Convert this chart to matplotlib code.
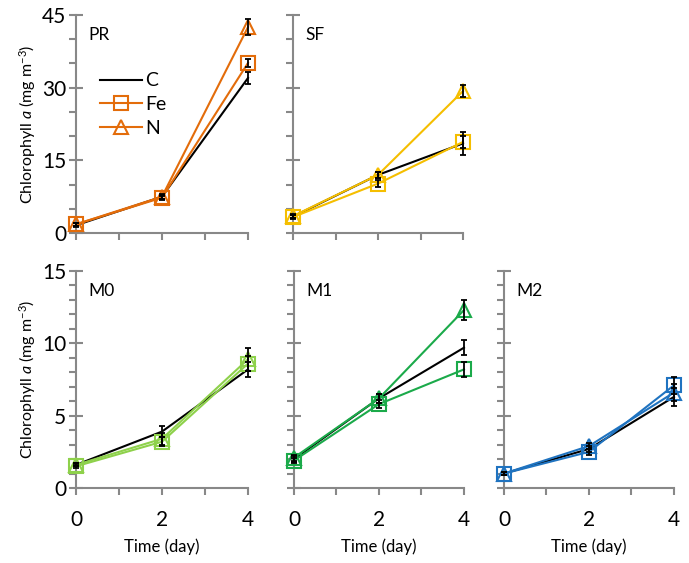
import matplotlib
matplotlib.use('Agg')
import matplotlib.pyplot as plt
from matplotlib.ticker import MultipleLocator

plt.rcParams.update({
    'font.family': ['Lato', 'DejaVu Sans'],
    'mathtext.fontset': 'custom',
    'mathtext.it': 'Lato:italic',
    'mathtext.rm': 'Lato',
})

# sampling days
days = [0, 2, 4]

# chlorophyll a (mg m-3): mean and error for control (C), +Fe, +N
PR_C = [1.6, 7.5, 32.0]
PR_C_err = [0.4, 0.5, 1.3]
PR_Fe = [1.8, 7.3, 35.1]
PR_Fe_err = [0.3, 0.4, 0.9]
PR_N = [1.8, 7.5, 42.5]
PR_N_err = [0.3, 0.4, 1.7]

SF_C = [3.4, 12.0, 18.5]
SF_C_err = [0.4, 0.6, 2.4]
SF_Fe = [3.3, 10.2, 18.8]
SF_Fe_err = [0.4, 0.8, 1.2]
SF_N = [3.5, 12.0, 29.3]
SF_N_err = [0.4, 0.6, 1.2]

M0_C = [1.6, 3.9, 8.2]
M0_C_err = [0.1, 0.4, 0.5]
M0_Fe = [1.5, 3.2, 8.6]
M0_Fe_err = [0.1, 0.3, 0.5]
M0_N = [1.6, 3.4, 8.9]
M0_N_err = [0.1, 0.4, 0.8]

M1_C = [2.0, 6.2, 9.7]
M1_C_err = [0.2, 0.3, 0.5]
M1_Fe = [1.9, 5.8, 8.2]
M1_Fe_err = [0.2, 0.3, 0.5]
M1_N = [2.1, 6.2, 12.3]
M1_N_err = [0.2, 0.3, 0.7]

M2_C = [1.0, 2.7, 6.3]
M2_C_err = [0.1, 0.2, 0.6]
M2_Fe = [1.0, 2.5, 7.1]
M2_Fe_err = [0.1, 0.2, 0.6]
M2_N = [1.0, 2.9, 6.6]
M2_N_err = [0.1, 0.2, 0.6]

sites = [
    ('PR', '#E36C0A', PR_C, PR_C_err, PR_Fe, PR_Fe_err, PR_N, PR_N_err),
    ('SF', '#F5BE00', SF_C, SF_C_err, SF_Fe, SF_Fe_err, SF_N, SF_N_err),
    ('M0', '#8ED14B', M0_C, M0_C_err, M0_Fe, M0_Fe_err, M0_N, M0_N_err),
    ('M1', '#1BAA4A', M1_C, M1_C_err, M1_Fe, M1_Fe_err, M1_N, M1_N_err),
    ('M2', '#1F73C0', M2_C, M2_C_err, M2_Fe, M2_Fe_err, M2_N, M2_N_err),
]

# axes boxes [left, bottom, width, height]
boxes = [
    [0.1103, 0.5861, 0.2496, 0.3872],
    [0.4253, 0.5861, 0.2467, 0.3872],
    [0.1103, 0.1332, 0.2496, 0.3854],
    [0.4267, 0.1332, 0.2467, 0.3854],
    [0.7315, 0.1332, 0.2467, 0.3854],
]

grey = '#888888'
ylabel = r'Chlorophyll $\mathit{a}$ (mg m$^{-3}$)'

fig = plt.figure(figsize=(6.89, 5.63), dpi=100)

for i, (name, col, c, ce, fe, fee, n, ne) in enumerate(sites):
    ax = fig.add_axes(boxes[i])
    top = i < 2

    ax.plot(days, c, color='black', lw=1.5, label='C', clip_on=False, zorder=3)
    ax.plot(days, fe, color=col, lw=1.5, marker='s', ms=10.5, mfc='none',
            mec=col, mew=1.5, label='Fe', clip_on=False, zorder=4)
    ax.plot(days, n, color=col, lw=1.5, marker='^', ms=10.5, mfc='none',
            mec=col, mew=1.5, label='N', clip_on=False, zorder=4)
    for vals, errs in [(c, ce), (fe, fee), (n, ne)]:
        eb = ax.errorbar(days, vals, yerr=errs, fmt='none', ecolor='black',
                         elinewidth=1.3, capsize=2.5, capthick=1.3, zorder=5)
        for art in eb.lines[1] + eb.lines[2]:
            art.set_clip_on(False)

    ax.set_xlim(0, 4)
    ax.xaxis.set_major_locator(MultipleLocator(2))
    ax.xaxis.set_minor_locator(MultipleLocator(1))
    if top:
        ax.set_ylim(0, 45)
        ax.yaxis.set_major_locator(MultipleLocator(15))
        ax.yaxis.set_minor_locator(MultipleLocator(5))
    else:
        ax.set_ylim(0, 15)
        ax.yaxis.set_major_locator(MultipleLocator(5))
        ax.yaxis.set_minor_locator(MultipleLocator(1))

    for s in ['top', 'right']:
        ax.spines[s].set_visible(False)
    for s in ['left', 'bottom']:
        ax.spines[s].set_color(grey)
        ax.spines[s].set_linewidth(1.5)

    ax.tick_params(axis='y', which='major', direction='inout', length=10,
                   width=1.5, color=grey, labelsize=15, pad=2)
    ax.tick_params(axis='y', which='minor', direction='out', length=5,
                   width=1.5, color=grey)
    ax.tick_params(axis='x', which='both', direction='out', length=5,
                   width=1.5, color=grey, labelsize=15, pad=11)

    if top:
        ax.tick_params(axis='x', labelbottom=False)
    else:
        ax.set_xlabel('Time (day)', fontsize=12, labelpad=6)
    if i in (0, 2):
        ax.set_ylabel(ylabel, fontsize=11.5, labelpad=3)
    else:
        ax.tick_params(axis='y', labelleft=False)

    ax.text(0.07, 0.91, name, transform=ax.transAxes, fontsize=12.5,
            ha='left', va='center')

    if i == 0:
        ax.legend(loc='upper left', bbox_to_anchor=(0.07, 0.79), frameon=False,
                  fontsize=14, handlelength=2.2, handletextpad=0.15,
                  labelspacing=0.35, borderpad=0.1)

fig.savefig('out.png', dpi=100)
